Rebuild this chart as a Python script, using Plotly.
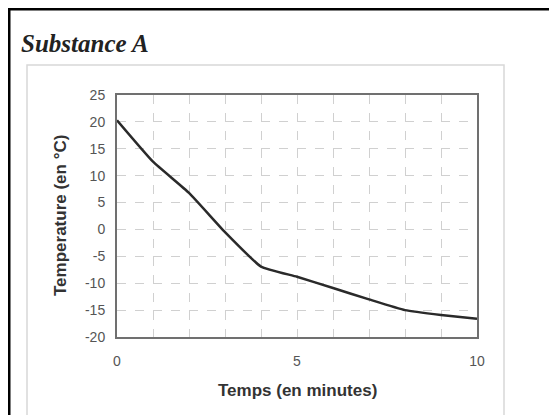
import plotly.graph_objects as go

temps_min = [0, 1, 2, 3, 4, 5, 6, 7, 8, 9, 10]
temperature_c = [20.3, 12.6, 6.8, -0.5, -6.9, -8.8, -10.9, -13.0, -15.0, -15.9, -16.6]

x_ticks = [0, 5, 10]
y_ticks = [25, 20, 15, 10, 5, 0, -5, -10, -15, -20]

# figure pixel geometry (page is offset by the 8px body margin)
W, H = 557, 415
L, R, T, B = 109, 469, 87, 329


def px(x):
    return (x - L) / (R - L)


def py(y):
    return (B - y) / (B - T)


fig = go.Figure()
fig.add_trace(go.Scatter(
    x=temps_min, y=temperature_c, mode="lines",
    line=dict(color="#2a2a2a", width=2.5, shape="spline", smoothing=0.4),
    showlegend=False, hoverinfo="skip",
))

tick_font = dict(family="Liberation Sans, Arial", size=14, color="#555")
title_font = dict(family="Liberation Sans, Arial", size=17, color="#333")

grid = dict(showgrid=True, gridcolor="#d0d0d0", griddash="dash", gridwidth=1)

fig.update_layout(
    width=W, height=H,
    margin=dict(l=L, r=W - R, t=T, b=H - B),
    paper_bgcolor="white", plot_bgcolor="white",
    xaxis=dict(
        range=[0, 10], tickvals=x_ticks, ticktext=[str(v) for v in x_ticks],
        tickfont=tick_font, ticks="", showline=True, mirror=True,
        linecolor="#707070", linewidth=2, zeroline=False, ticklabelstandoff=10,
        minor=dict(dtick=1, showgrid=True, gridcolor="#d0d0d0", griddash="dash", gridwidth=1),
        **grid,
    ),
    yaxis=dict(
        range=[-20, 25], tickvals=y_ticks, ticktext=[str(v) for v in y_ticks],
        tickfont=tick_font, ticks="", showline=True, mirror=True,
        linecolor="#707070", linewidth=2, zeroline=False, ticklabelstandoff=7,
        **grid,
    ),
    shapes=[
        dict(type="rect", xref="paper", yref="paper",
             x0=px(1), x1=px(546), y0=py(430), y1=py(1),
             line=dict(color="black", width=3), fillcolor="rgba(0,0,0,0)", layer="above"),
        dict(type="rect", xref="paper", yref="paper",
             x0=px(19), x1=px(496), y0=py(430), y1=py(57),
             line=dict(color="#d8d8d8", width=1.5), fillcolor="rgba(0,0,0,0)", layer="below"),
    ],
    annotations=[
        dict(text="<b><i>Substance A</i></b>", xref="paper", yref="paper",
             x=px(11), y=py(35), xanchor="left", yanchor="middle", showarrow=False,
             font=dict(family="Liberation Serif, Times New Roman", size=25, color="#222")),
        dict(text="<b>Temps (en minutes)</b>", xref="paper", yref="paper",
             x=0.5, y=py(382), xanchor="center", yanchor="middle", showarrow=False,
             font=title_font),
        dict(text="<b>Temperature (en °C)</b>", xref="paper", yref="paper",
             x=px(52), y=0.5, xanchor="center", yanchor="middle", showarrow=False,
             textangle=-90, font=title_font),
    ],
)

fig.write_html("out.html")
